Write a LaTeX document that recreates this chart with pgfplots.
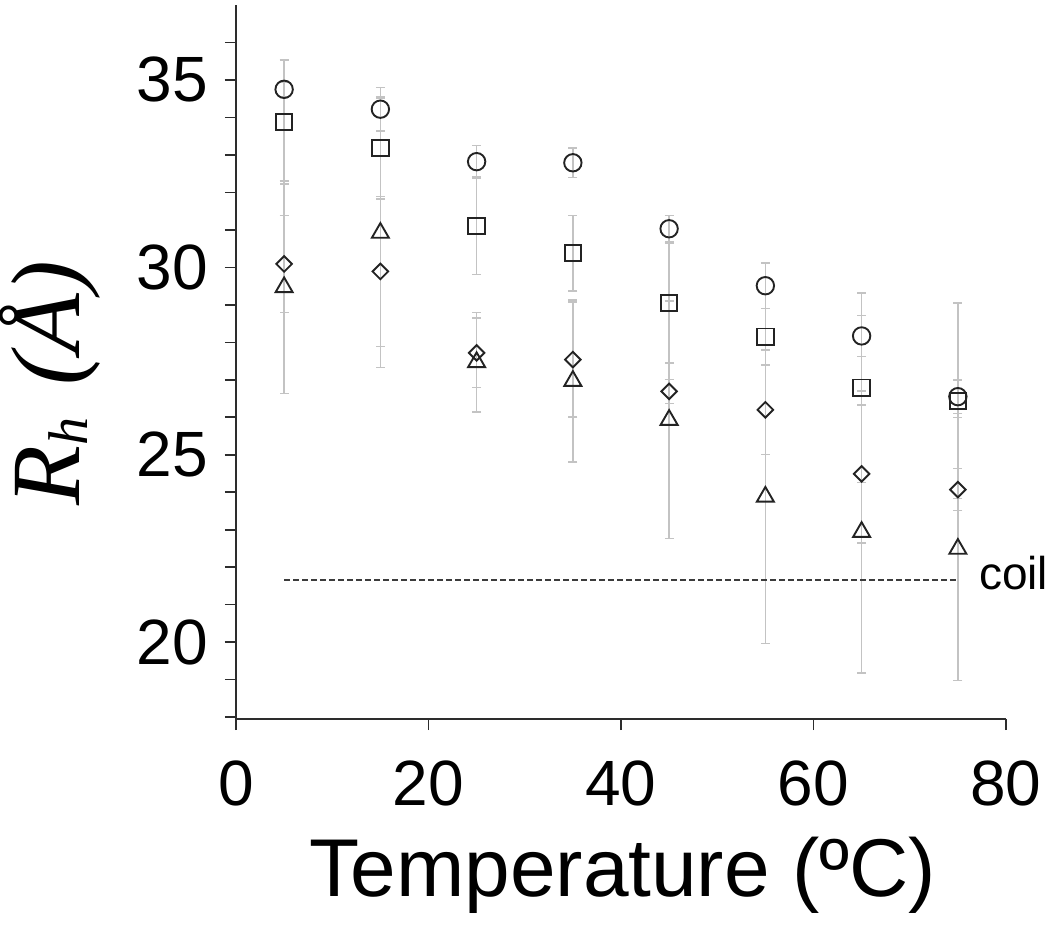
\documentclass[border=0pt]{standalone}
\usepackage{fontspec}
\setmainfont{Liberation Sans}
\newfontfamily\lserif{Liberation Serif}
\usepackage{pgfplots}
\pgfplotsset{compat=1.18}
\usepackage{pgfplotstable}
\definecolor{errgray}{RGB}{195,195,195}
\definecolor{mk}{RGB}{35,35,35}
\definecolor{axgray}{RGB}{45,45,45}
\definecolor{dashgray}{RGB}{60,60,60}

\pgfplotstableread{
x y e
5 34.75 0.20
15 34.22 0.58
25 32.82 0.43
35 32.79 0.39
45 31.03 0.36
55 29.51 0.61
65 28.17 0.55
75 26.55 0.45
}\circdata
\pgfplotstableread{
x y e
5 33.88 1.65
15 33.19 1.36
25 31.11 1.30
35 30.38 1.01
45 29.05 1.60
55 28.15 0.75
65 26.79 2.53
75 26.44 2.61
}\sqdata
\pgfplotstableread{
x y e
5 30.09 1.30
15 29.89 2.00
25 27.72 0.93
35 27.54 1.53
45 26.69 0.32
55 26.20 1.19
65 24.49 1.84
75 24.07 0.56
}\diadata
\pgfplotstableread{
x y e
5 29.47 2.83
15 30.92 3.59
25 27.47 1.33
35 26.97 2.16
45 25.93 3.17
55 23.88 3.92
65 22.94 3.76
75 22.49 3.51
}\tridata

\pgfplotsset{errbars/.style={draw=none, mark=none, forget plot,
  error bars/.cd, y dir=both, y explicit,
  error bar style={draw=errgray, line width=1.5pt},
  error mark options={draw=errgray, line width=1.5pt, mark size=4.5pt, rotate=90}}}

\begin{document}
\begin{tikzpicture}
\useasboundingbox (-236pt,-215pt) rectangle (814pt,719pt);
\begin{axis}[
  at={(0pt,0pt)}, anchor=south west,
  scale only axis, width=770pt, height=714pt,
  xmin=0, xmax=80, ymin=17.95, ymax=37,
  axis lines*=left,
  axis line style={axgray, line width=1.8pt},
  xtick={0,20,40,60,80},
  ytick={20,25,30,35},
  minor ytick={18,19,...,36},
  tick align=outside,
  major tick length=11pt, minor tick length=11pt,
  tick style={axgray, line width=1.6pt},
  /pgf/number format/assume math mode=true,
  ticklabel style={font=\fontsize{64}{64}\selectfont, inner sep=0pt},
  yticklabel style={anchor=east, xshift=-17pt},
  xticklabel style={anchor=north, yshift=-31pt},
  xlabel={Temperature (ºC)},
  ylabel={{\lserif\itshape R\raisebox{-8pt}{\fontsize{56}{56}\selectfont h}\hspace{0.32em}(Å)}},
  every axis x label/.style={at={([xshift=2pt,yshift=-177pt]axis description cs:0.5,0)}, anchor=base, font=\fontsize{82}{82}\selectfont, inner sep=0pt},
  every axis y label/.style={at={([xshift=-156pt,yshift=-21pt]axis description cs:0,0.5)}, rotate=90, anchor=base, font=\fontsize{98}{98}\selectfont, inner sep=0pt},
  clip=false,
]
% error bars (drawn first, behind markers)
\addplot[errbars] table[x=x, y=y, y error=e] \circdata;
\addplot[errbars] table[x=x, y=y, y error=e] \sqdata;
\addplot[errbars] table[x=x, y=y, y error=e] \diadata;
\addplot[errbars] table[x=x, y=y, y error=e] \tridata;
% coil line
\addplot[dashgray, line width=1.9pt, dash pattern=on 5.5pt off 3.5pt] coordinates {(5,21.67) (75,21.67)};
\node[anchor=base west, inner sep=0pt, font=\fontsize{46}{46}\selectfont, xshift=21pt, yshift=-10pt] at (axis cs:75,21.67) {coil};
% markers
\addplot[only marks, mark=o, mark size=8.7pt, mark options={draw=mk, line width=1.9pt, solid}] table[x=x, y=y] \circdata;
\addplot[only marks, mark=square, mark size=8.2pt, mark options={draw=mk, line width=1.9pt, solid}] table[x=x, y=y] \sqdata;
\addplot[only marks, mark=square, mark size=5.5pt, mark options={draw=mk, line width=1.9pt, solid, rotate=45}] table[x=x, y=y] \diadata;
\addplot[only marks, mark=triangle, mark size=9.8pt, mark options={draw=mk, line width=1.9pt, solid}] table[x=x, y=y] \tridata;
\end{axis}
\end{tikzpicture}
\end{document}
